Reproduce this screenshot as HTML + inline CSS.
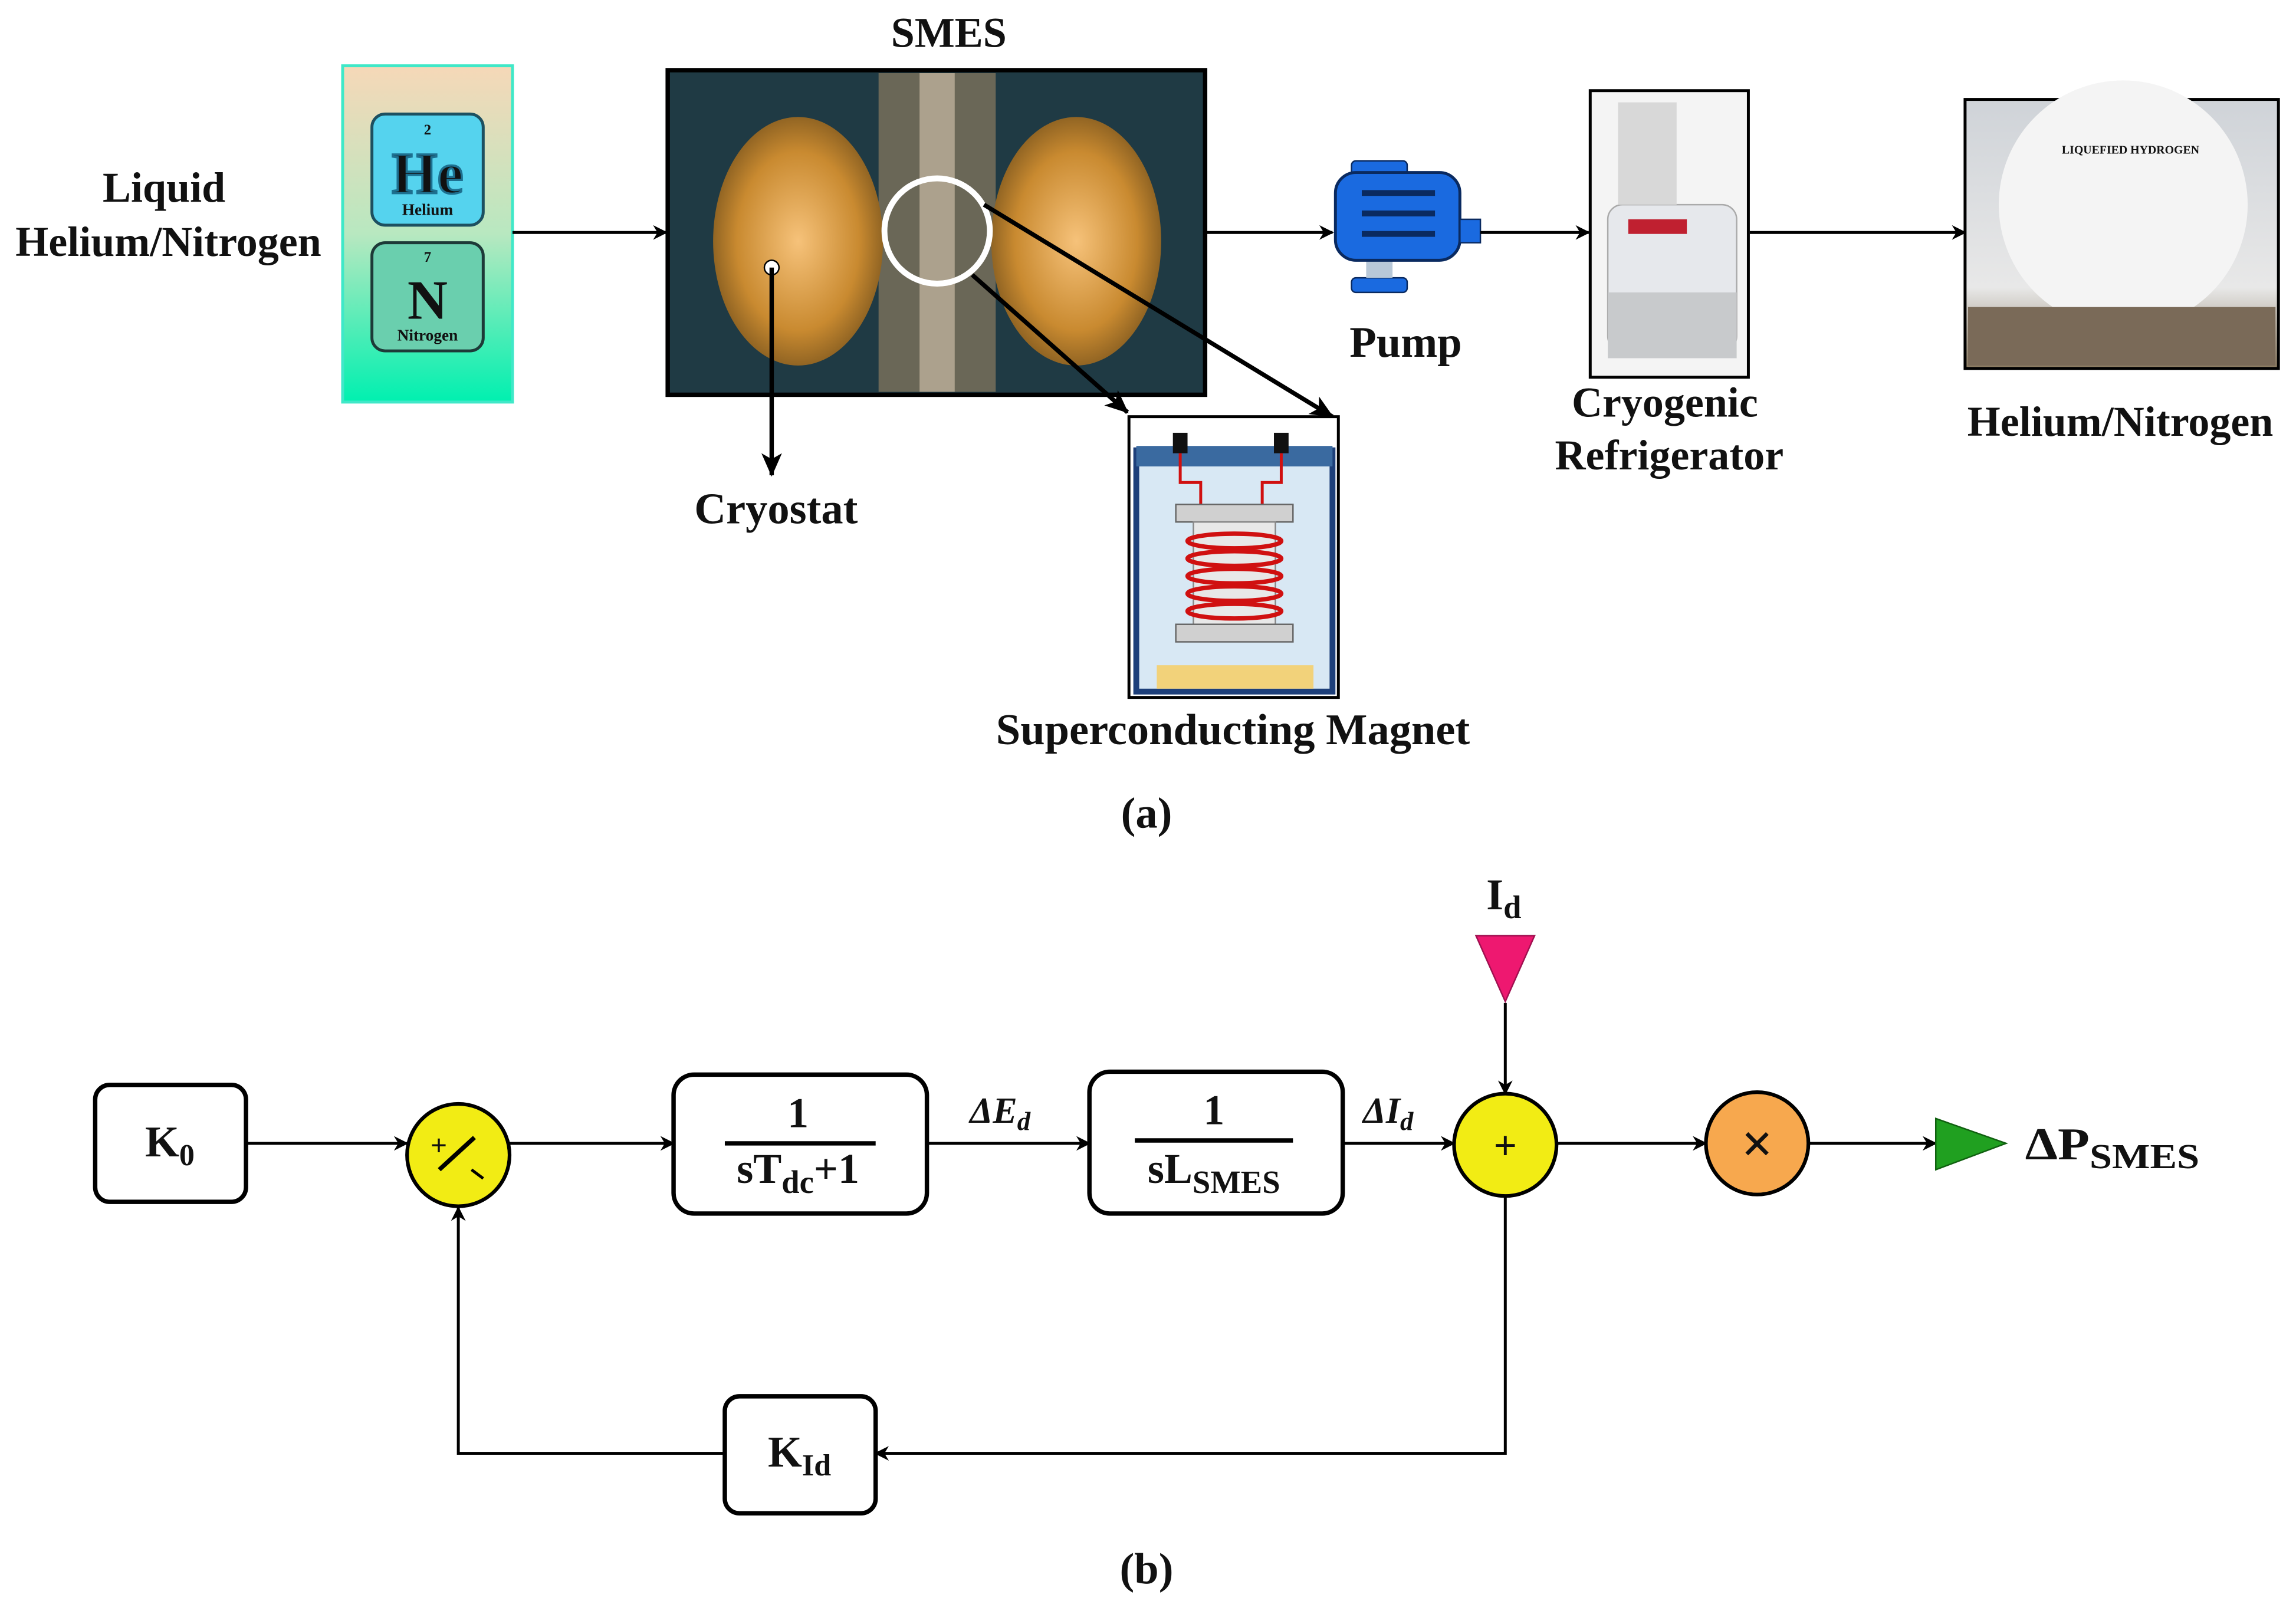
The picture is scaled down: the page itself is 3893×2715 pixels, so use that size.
<!DOCTYPE html>
<html><head><meta charset="utf-8"><style>
html,body{margin:0;padding:0;background:#fff}
svg{display:block}
text{font-family:"Liberation Serif",serif;font-weight:bold;fill:#111}
</style></head><body>
<svg width="3893" height="2715" viewBox="0 0 1568 1095" preserveAspectRatio="none" xmlns="http://www.w3.org/2000/svg">
<defs>
<marker id="ah" markerWidth="10" markerHeight="10" refX="9" refY="5" orient="auto" markerUnits="userSpaceOnUse"><path d="M0,0 L10,5 L0,10 L3,5 Z" fill="#000"/></marker>
<marker id="ahb" markerWidth="16" markerHeight="16" refX="15" refY="8" orient="auto" markerUnits="userSpaceOnUse"><path d="M0,1 L16,8 L0,15 L4,8 Z" fill="#000"/></marker>
<linearGradient id="gas" x1="0" y1="0" x2="0" y2="1"><stop offset="0" stop-color="#f6d8b8"/><stop offset="0.5" stop-color="#b8e8c0"/><stop offset="1" stop-color="#00f0b0"/></linearGradient>
<radialGradient id="gold" cx="0.5" cy="0.5" r="0.6"><stop offset="0" stop-color="#f6c27a"/><stop offset="0.6" stop-color="#c98a30"/><stop offset="1" stop-color="#6a4a1a"/></radialGradient>
<linearGradient id="sky" x1="0" y1="0" x2="0" y2="1"><stop offset="0" stop-color="#cfd3d8"/><stop offset="0.7" stop-color="#e8e8e8"/><stop offset="1" stop-color="#8a7a60"/></linearGradient>
</defs>

<!-- (a) -->
<text x="112" y="138" font-size="29" text-anchor="middle">Liquid</text>
<text x="115" y="175" font-size="29" text-anchor="middle">Helium/Nitrogen</text>
<rect x="234" y="45" width="116" height="230" fill="url(#gas)" stroke="#40e8c8" stroke-width="2"/>
<rect x="254" y="78" width="76" height="76" rx="9" fill="#55d3ee" stroke="#1d5060" stroke-width="2"/>
<text x="292" y="92" font-size="10" text-anchor="middle" font-family="Liberation Sans" fill="#1d5060">2</text>
<text x="292" y="132" font-size="40" text-anchor="middle" font-family="Liberation Sans" fill="#4ad8f8" stroke="#1d7090" stroke-width="1.5">He</text>
<text x="292" y="147" font-size="11" text-anchor="middle" font-family="Liberation Sans" fill="#1d6080">Helium</text>
<rect x="254" y="166" width="76" height="74" rx="9" fill="#6acfae" stroke="#1d3a38" stroke-width="2"/>
<text x="292" y="179" font-size="10" text-anchor="middle" font-family="Liberation Sans">7</text>
<text x="292" y="218" font-size="38" text-anchor="middle" font-family="Liberation Sans" fill="#2a4a48">N</text>
<text x="292" y="233" font-size="11" text-anchor="middle" font-family="Liberation Sans">Nitrogen</text>
<line x1="350" y1="159" x2="455" y2="159" stroke="#000" stroke-width="2" marker-end="url(#ah)"/>

<text x="648" y="32" font-size="29" text-anchor="middle">SMES</text>
<rect x="456" y="48" width="367" height="222" fill="#1f3a44" stroke="#000" stroke-width="3"/>
<rect x="600" y="50" width="80" height="218" fill="#8a7a60" opacity="0.7"/>
<ellipse cx="545" cy="165" rx="58" ry="85" fill="url(#gold)"/>
<ellipse cx="735" cy="165" rx="58" ry="85" fill="url(#gold)"/>
<rect x="628" y="50" width="24" height="218" fill="#d8c8b0" opacity="0.6"/>
<circle cx="640" cy="158" r="36" fill="none" stroke="#fff" stroke-width="4"/>
<circle cx="527" cy="183" r="5" fill="#fff" stroke="#000"/>
<line x1="527" y1="183" x2="527" y2="325" stroke="#000" stroke-width="3" marker-end="url(#ahb)"/>
<text x="530" y="358" font-size="30" text-anchor="middle">Cryostat</text>
<line x1="664" y1="188" x2="770" y2="282" stroke="#000" stroke-width="3" marker-end="url(#ahb)"/>
<line x1="672" y1="140" x2="910" y2="285" stroke="#000" stroke-width="3" marker-end="url(#ahb)"/>

<rect x="771" y="285" width="143" height="192" fill="#fff" stroke="#000" stroke-width="2"/>
<rect x="776" y="308" width="134" height="165" fill="#d8e8f4" stroke="#1d3f7a" stroke-width="4"/>
<rect x="776" y="305" width="134" height="14" fill="#3a6aa0"/>
<rect x="801" y="296" width="10" height="14" fill="#111"/><rect x="870" y="296" width="10" height="14" fill="#111"/>
<path d="M806,310 V330 H820 V345 M875,310 V330 H862 V345" fill="none" stroke="#d01010" stroke-width="2"/>
<rect x="803" y="345" width="80" height="12" fill="#d0d0d0" stroke="#666"/>
<rect x="815" y="357" width="56" height="70" fill="#e8e8e8" stroke="#888"/>
<g fill="none" stroke="#d01010" stroke-width="3">
<ellipse cx="843" cy="370" rx="32" ry="5"/><ellipse cx="843" cy="382" rx="32" ry="5"/><ellipse cx="843" cy="394" rx="32" ry="5"/><ellipse cx="843" cy="406" rx="32" ry="5"/><ellipse cx="843" cy="418" rx="32" ry="5"/>
</g>
<rect x="803" y="427" width="80" height="12" fill="#d0d0d0" stroke="#666"/>
<rect x="790" y="455" width="107" height="16" fill="#f2d27a"/>
<text x="842" y="509" font-size="30" text-anchor="middle">Superconducting Magnet</text>

<line x1="823" y1="159" x2="910" y2="159" stroke="#000" stroke-width="2" marker-end="url(#ah)"/>
<rect x="923" y="110" width="38" height="10" rx="3" fill="#1a6ae0" stroke="#0a2a60"/>
<rect x="923" y="190" width="38" height="10" rx="3" fill="#1a6ae0" stroke="#0a2a60"/>
<rect x="933" y="120" width="18" height="70" fill="#b8c8d8"/>
<rect x="912" y="118" width="85" height="60" rx="14" fill="#1a6ae0" stroke="#0a2a60" stroke-width="2"/>
<g stroke="#0a2a60" stroke-width="4"><line x1="930" y1="132" x2="980" y2="132"/><line x1="930" y1="146" x2="980" y2="146"/><line x1="930" y1="160" x2="980" y2="160"/></g>
<rect x="997" y="150" width="14" height="16" fill="#1a6ae0" stroke="#0a2a60"/>
<text x="960" y="244" font-size="30" text-anchor="middle">Pump</text>
<line x1="1011" y1="159" x2="1085" y2="159" stroke="#000" stroke-width="2" marker-end="url(#ah)"/>

<rect x="1086" y="62" width="108" height="196" fill="#f4f4f4" stroke="#000" stroke-width="2"/>
<rect x="1098" y="140" width="88" height="100" rx="10" fill="#e6e8ec" stroke="#aaa"/>
<rect x="1098" y="200" width="88" height="45" fill="#c8cacc"/>
<rect x="1105" y="70" width="40" height="70" fill="#d8d8d8"/>
<rect x="1112" y="150" width="40" height="10" fill="#c02030"/>
<text x="1137" y="285" font-size="29" text-anchor="middle">Cryogenic</text>
<text x="1140" y="321" font-size="29" text-anchor="middle">Refrigerator</text>
<line x1="1195" y1="159" x2="1342" y2="159" stroke="#000" stroke-width="2" marker-end="url(#ah)"/>

<rect x="1342" y="68" width="214" height="184" fill="url(#sky)" stroke="#000" stroke-width="2"/>
<ellipse cx="1450" cy="140" rx="85" ry="85" fill="#f4f4f4"/>
<rect x="1344" y="210" width="210" height="40" fill="#7a6a58"/>
<text x="1455" y="105" font-size="8" fill="#c02020" text-anchor="middle">LIQUEFIED HYDROGEN</text>
<text x="1448" y="298" font-size="29" text-anchor="middle">Helium/Nitrogen</text>
<text x="783" y="566" font-size="30" text-anchor="middle" font-weight="normal">(<tspan font-weight="bold">a</tspan>)</text>

<!-- (b) -->
<g fill="#fff" stroke="#000" stroke-width="3">
<rect x="65" y="742" width="103" height="80" rx="10"/>
<rect x="460" y="735" width="173" height="95" rx="14"/>
<rect x="744" y="733" width="173" height="97" rx="14"/>
<rect x="495" y="955" width="103" height="80" rx="10"/>
</g>
<text x="116" y="791" font-size="30" text-anchor="middle">K<tspan font-size="21" dy="6">0</tspan></text>
<text x="546" y="1003" font-size="30" text-anchor="middle">K<tspan font-size="21" dy="6">Id</tspan></text>
<text x="545" y="771" font-size="29" text-anchor="middle">1</text>
<line x1="495" y1="782" x2="598" y2="782" stroke="#000" stroke-width="3"/>
<text x="545" y="809" font-size="29" text-anchor="middle">sT<tspan font-size="22" dy="7">dc</tspan><tspan dy="-7">+1</tspan></text>
<text x="829" y="769" font-size="29" text-anchor="middle">1</text>
<line x1="775" y1="780" x2="883" y2="780" stroke="#000" stroke-width="3"/>
<text x="829" y="809" font-size="29" text-anchor="middle">sL<tspan font-size="22" dy="7">SMES</tspan></text>

<g stroke="#000" stroke-width="2" fill="none">
<line x1="168" y1="782" x2="278" y2="782" marker-end="url(#ah)"/>
<line x1="348" y1="782" x2="460" y2="782" marker-end="url(#ah)"/>
<line x1="633" y1="782" x2="744" y2="782" marker-end="url(#ah)"/>
<line x1="917" y1="782" x2="993" y2="782" marker-end="url(#ah)"/>
<line x1="1028" y1="686" x2="1028" y2="748" marker-end="url(#ah)"/>
<line x1="1063" y1="782" x2="1165" y2="782" marker-end="url(#ah)"/>
<line x1="1235" y1="782" x2="1322" y2="782" marker-end="url(#ah)"/>
<polyline points="1028,818 1028,994 598,994" marker-end="url(#ah)"/>
<polyline points="495,994 313,994 313,826" marker-end="url(#ah)"/>
</g>
<circle cx="313" cy="790" r="35" fill="#f2ec14" stroke="#000" stroke-width="2.5"/>
<text x="294" y="790" font-size="20">+</text>
<line x1="300" y1="800" x2="324" y2="778" stroke="#000" stroke-width="3"/>
<line x1="322" y1="800" x2="330" y2="806" stroke="#000" stroke-width="2"/>
<circle cx="1028" cy="783" r="35" fill="#f2ec14" stroke="#000" stroke-width="2.5"/>
<text x="1028" y="793" font-size="28" text-anchor="middle">+</text>
<circle cx="1200" cy="782" r="35" fill="#f7a84e" stroke="#000" stroke-width="2.5"/>
<text x="1200" y="795" font-size="38" text-anchor="middle" font-family="Liberation Sans" font-weight="normal">×</text>
<polygon points="1008,640 1048,640 1028,685" fill="#ee1870" stroke="#a01050"/>
<text x="1027" y="622" font-size="30" text-anchor="middle">I<tspan font-size="22" dy="6">d</tspan></text>
<polygon points="1322,765 1322,800 1370,782" fill="#20a020" stroke="#106010"/>
<text x="1383" y="793" font-size="31" textLength="119" lengthAdjust="spacingAndGlyphs">ΔP<tspan font-size="24" dy="6">SMES</tspan></text>
<text x="683" y="768" font-size="25" text-anchor="middle" font-style="italic" font-weight="normal">ΔE<tspan font-size="18" dy="5">d</tspan></text>
<text x="948" y="768" font-size="25" text-anchor="middle" font-style="italic" font-weight="normal">ΔI<tspan font-size="18" dy="5">d</tspan></text>
<text x="783" y="1083" font-size="30" text-anchor="middle" font-weight="normal">(<tspan font-weight="bold">b</tspan>)</text>
</svg>
</body></html>
